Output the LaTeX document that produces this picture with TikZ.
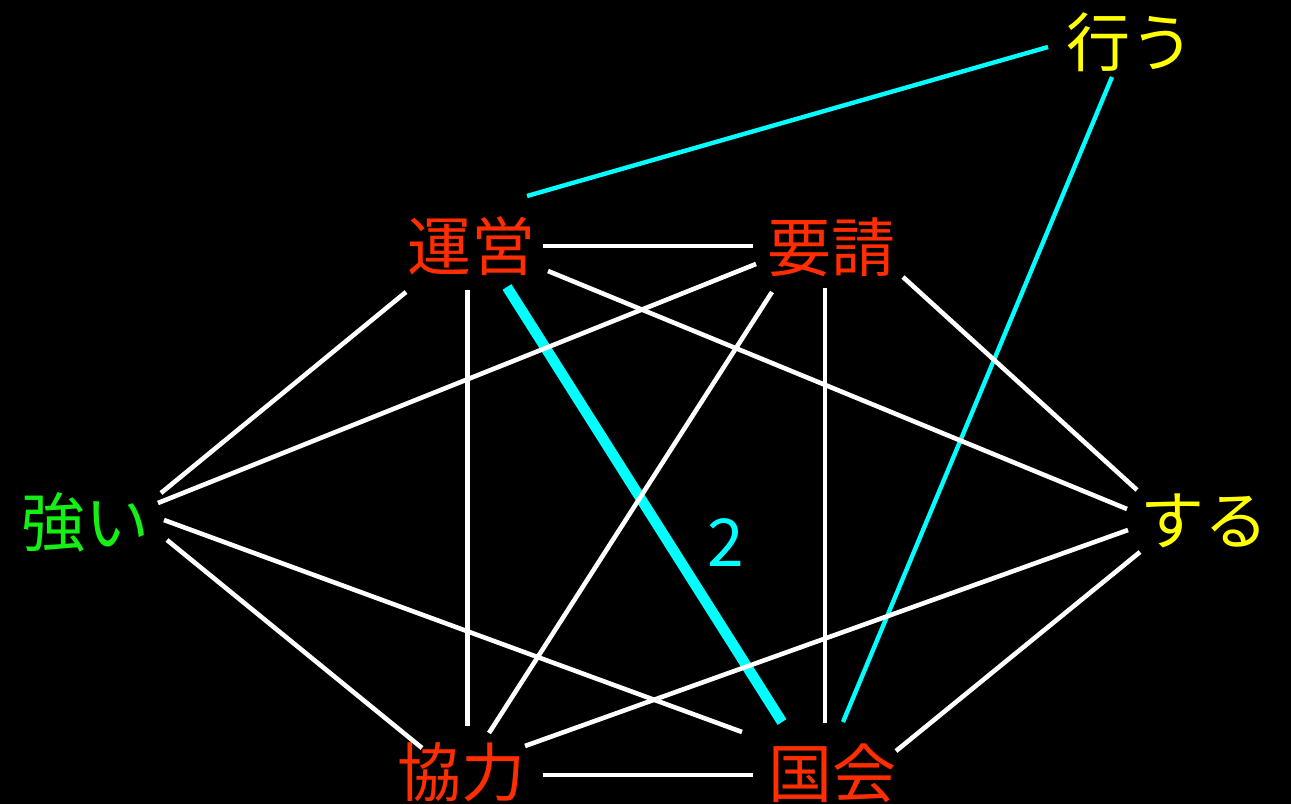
\documentclass[tikz,border=0pt]{standalone}
\usepackage{fontspec}
\setmainfont{Noto Sans CJK JP}
\usetikzlibrary{calc}
\definecolor{kred}{RGB}{255,45,0}
\definecolor{kyellow}{RGB}{255,255,0}
\definecolor{kgreen}{RGB}{20,240,20}
\definecolor{kcyan}{RGB}{0,255,255}
\begin{document}
\begin{tikzpicture}[x=1pt,y=-1pt,
  lbl/.style={inner sep=0pt, font=\fontsize{64}{64}\selectfont},
  wline/.style={draw=white, line width=4.6pt},
  cline/.style={draw=kcyan, line width=4.4pt},
  cthick/.style={draw=kcyan, line width=10.5pt}]
\fill[black] (0,0) rectangle (1291,804);
\useasboundingbox (0,0) rectangle (1291,804);
% nodes
\node[lbl, text=kred]    (A) at (471,246) {運営};
\node[lbl, text=kred]    (B) at (831,247) {要請};
\node[lbl, text=kyellow] (C) at (1130,42) {行う};
\node[lbl, text=kgreen]  (D) at (85,522)  {強い};
\node[lbl, text=kyellow] (E) at (1204,521) {する};
\node[lbl, text=kred]    (F) at (461,772) {協力};
\node[lbl, text=kred]    (G) at (832,773) {国会};
% edges
\draw[cline]  ($(A)+(56,-50)$) -- ($(C)+(-82,5)$);
\draw[cline]  ($(C)+(-18,35)$) -- ($(G)+(11,-51)$);
\draw[cthick] ($(A)+(36,41)$) -- ($(G)+(-50,-51)$);
\node[lbl, text=kcyan, font=\fontsize{66}{66}\selectfont] (L) at (726,543) {2};
\draw[wline] ($(A)+(72,0)$) -- ($(B)+(-78,-1)$);
\draw[wline] ($(A)+(77,25)$) -- ($(E)+(-77,-12)$);
\draw[wline] ($(A)+(-65,46)$) -- ($(D)+(76,-29)$);
\draw[wline] ($(A)+(-3.5,44)$) -- ($(F)+(6.5,-46)$);
\draw[wline] ($(B)+(-75,17)$) -- ($(D)+(73,-19)$);
\draw[wline] ($(B)+(-59,45)$) -- ($(F)+(28,-39)$);
\draw[wline] ($(B)+(-6,41)$) -- ($(G)+(-7,-50)$);
\draw[wline] ($(B)+(72,30)$) -- ($(E)+(-67,-31)$);
\draw[wline] ($(D)+(79,-2)$) -- ($(G)+(-90,-41)$);
\draw[wline] ($(D)+(82,18)$) -- ($(F)+(-39,-24)$);
\draw[wline] ($(E)+(-76,9)$) -- ($(F)+(64,-26)$);
\draw[wline] ($(E)+(-64,31)$) -- ($(G)+(64,-22)$);
\draw[wline] ($(F)+(82,3)$) -- ($(G)+(-79,2)$);
\end{tikzpicture}
\end{document}
